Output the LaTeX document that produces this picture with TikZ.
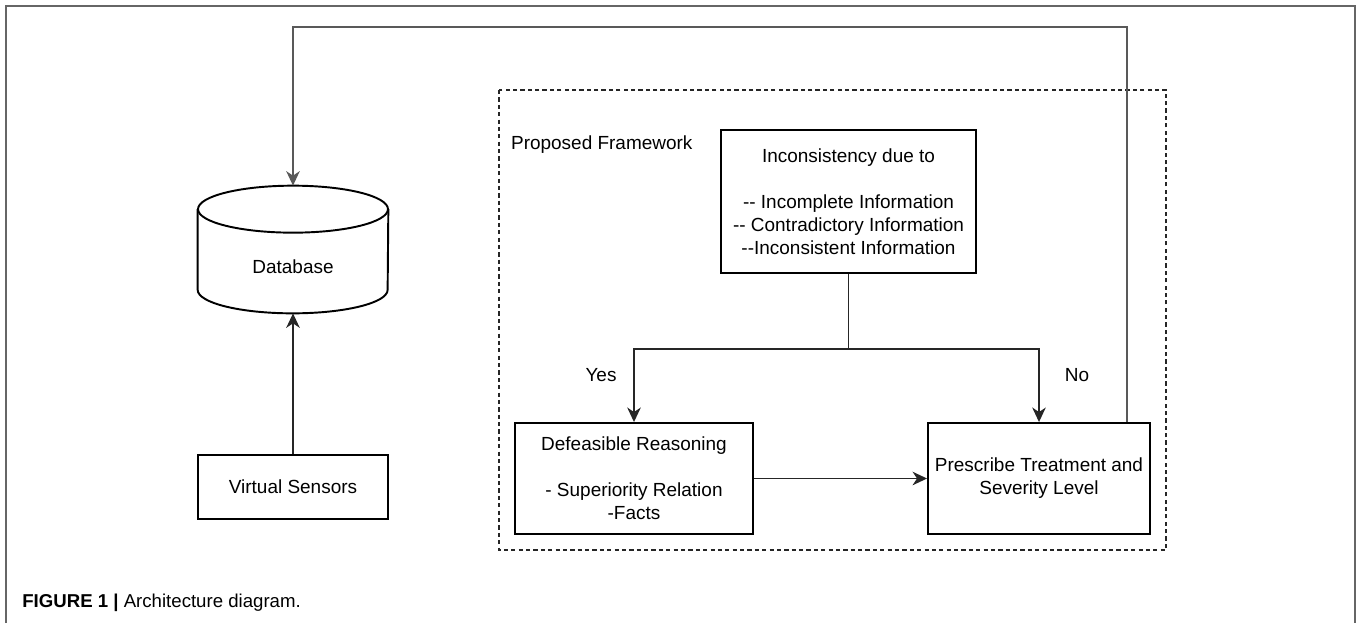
\documentclass[tikz,border=0pt]{standalone}
\usepackage{fontspec}
\setmainfont{Liberation Sans}
\usepackage{tikz}
\usetikzlibrary{arrows.meta}
\newcommand{\dsh}{-\kern0pt-}   % two hyphens, no en-dash ligature
\tikzset{
  bx/.style={draw=black, line width=1.1pt, align=center, inner sep=0pt,
             font=\fontsize{10.8}{13.1}\selectfont},
  lbl/.style={font=\fontsize{10.8}{13.1}\selectfont, inner sep=1pt},
  ln/.style={draw=black!85, line width=1.1pt},                                   % plain line
  ar/.style={ln, -{Stealth[length=2.9mm, width=2.7mm, inset=0.9mm]}},            % arrow
  fb/.style={draw=black!65, line width=1.1pt,
             -{Stealth[length=2.9mm, width=2.7mm, inset=0.9mm]}},                 % feedback arrow
}

\begin{document}
\begin{tikzpicture}[x=0.02cm, y=-0.02cm]
  \useasboundingbox (0,0) rectangle (1358,623);
  % outer frame, open at the bottom
  \draw[draw=black!60, line width=1.2pt] (6,623) -- (6,6) -- (1355,6) -- (1355,623);
  % ---------------- left column ----------------
  \node[minimum width=3.8cm, minimum height=2.54cm, inner sep=0pt] (db) at (293,249.5) {};
  \draw[ln, draw=black] ([yshift=-0.47cm]db.north) ellipse [x radius=1.9cm, y radius=0.47cm];
  \draw[ln, draw=black] ([yshift=-0.47cm]db.north west) -- ([yshift=0.47cm]db.south west)
    arc[start angle=180, end angle=360, x radius=1.9cm, y radius=0.47cm]
    -- ([yshift=-0.47cm]db.north east);
  \node[lbl] (dbt) at (293,267) {Database};
  \node[bx, minimum width=3.8cm, minimum height=1.28cm] (vs) at (293,487) {Virtual Sensors};
  \draw[ar] (vs) -- (db);
  % ---------------- proposed framework ----------------
  \draw[draw=black!85, line width=0.8pt, dash pattern=on 2.4pt off 1.8pt] (499,90) rectangle (1166,550);
  \node[lbl, anchor=west] (pf) at (509,145) {Proposed Framework};
  \node[bx, minimum width=5.1cm, minimum height=2.86cm] (inc) at (848.5,201.5)
    {Inconsistency due to\\[13.1pt]
     \dsh{} Incomplete Information\\
     \dsh{} Contradictory Information\\
     \dsh Inconsistent Information};
  \node[bx, minimum width=4.76cm, minimum height=2.22cm] (dr) at (634,478.5)
    {Defeasible Reasoning\\[13.1pt]
     - Superiority Relation\\
     -Facts};
  \node[bx, minimum width=4.44cm, minimum height=2.22cm] (pr) at (1039,478.5)
    {Prescribe Treatment and\\Severity Level};
  \coordinate (j) at (848.5,349);
  \draw[ln] (inc) -- (j);
  \draw[ar] (j) -| (dr.north);
  \draw[ar] (j) -| (pr.north);
  \draw[ar] (dr) -- (pr);
  \node[lbl] (yes) at (601,375) {Yes};
  \node[lbl] (no) at (1077,375) {No};
  % feedback to the database
  \coordinate (up) at (1127,27);
  \draw[fb] (pr.north -| up) -- (up) -| (db.north);
  % caption
  \node[anchor=west, inner sep=0pt, font=\fontsize{10.6}{12}\selectfont] (cap) at (22,603)
    {\textbf{FIGURE 1 |} Architecture diagram.};
\end{tikzpicture}
\end{document}
